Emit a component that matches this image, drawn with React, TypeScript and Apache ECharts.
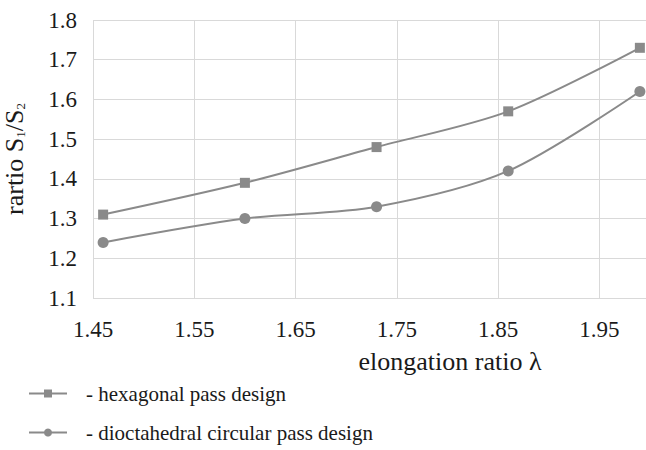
import React, { useEffect, useRef } from "react";
import * as echarts from "echarts";

const elongation = [1.46, 1.6, 1.73, 1.86, 1.99];
const hexagonal = [1.31, 1.39, 1.48, 1.57, 1.73];
const dioctahedral = [1.24, 1.3, 1.33, 1.42, 1.62];
const seriesNames = ["hexagonal pass design", "dioctahedral circular pass design"];
const xLabels = ["1.45", "1.55", "1.65", "1.75", "1.85", "1.95"];

const FONT = "Liberation Serif";
const LINE = "#8a8a8a";
const GRID = "#d9d9d9";
const TEXT = "#1a1a1a";

export default function App() {
  const ref = useRef<HTMLDivElement>(null);
  useEffect(() => {
    if (!ref.current) return;
    const chart = echarts.init(ref.current, null, { renderer: "svg" });
    const pair = (ys: number[]) => elongation.map((x, i) => [x, ys[i]]);
    const tickRich = { t: { fontFamily: FONT, fontSize: 23, color: TEXT, lineHeight: 26 } };
    chart.setOption({
      animation: false,
      backgroundColor: "#ffffff",
      textStyle: { fontFamily: FONT },
      grid: { left: 93, top: 20, right: -4, bottom: 152, containLabel: false, outerBoundsMode: "none" },
      legend: {
        orient: "vertical",
        left: 28,
        top: 383,
        padding: 0,
        height: 67,
        itemWidth: 38,
        itemHeight: 10,
        itemGap: 18,
        formatter: (n: string) => "- " + n,
        textStyle: { fontFamily: FONT, fontSize: 21, color: TEXT, padding: [0, 0, 0, 14] },
        data: seriesNames,
      },
      xAxis: {
        type: "value",
        min: 1.45,
        max: 2.0,
        interval: 0.05,
        axisLine: { show: false },
        axisTick: { show: false },
        splitLine: { show: true, lineStyle: { color: [GRID, "rgba(0,0,0,0)"], width: 1 } },
        axisLabel: {
          margin: 18,
          fontFamily: FONT,
          fontSize: 23,
          color: TEXT,
          rich: tickRich,
          formatter: (v: number) => {
            const s = v.toFixed(2);
            return xLabels.indexOf(s) >= 0 ? "{t|" + s + "}" : "";
          },
        },
        name: "elongation ratio λ",
        nameLocation: "middle",
        nameGap: 50,
        nameTextStyle: { fontFamily: FONT, fontSize: 26, color: TEXT, padding: [0, 0, 0, 157] },
      },
      yAxis: {
        type: "value",
        min: 1.1,
        max: 1.8,
        interval: 0.1,
        axisLine: { show: false },
        axisTick: { show: false },
        splitLine: { show: true, lineStyle: { color: GRID, width: 1 } },
        axisLabel: {
          margin: 16,
          fontFamily: FONT,
          fontSize: 23,
          color: TEXT,
          rich: tickRich,
          formatter: (v: number) => "{t|" + v.toFixed(1) + "}",
        },
        name: "rartio S{sub|1}/S{sub|2}",
        nameLocation: "middle",
        nameRotate: 90,
        nameGap: 66,
        nameTextStyle: {
          fontFamily: FONT,
          fontSize: 26,
          color: TEXT,
          rich: {
            sub: { fontFamily: FONT, fontSize: 13, color: TEXT, verticalAlign: "bottom", padding: [10, 0, 0, 0] },
          },
        },
      },
      series: [
        {
          name: seriesNames[0],
          type: "line",
          data: pair(hexagonal),
          smooth: 0.3,
          symbol: "rect",
          symbolSize: 10,
          lineStyle: { color: LINE, width: 2 },
          itemStyle: { color: LINE },
        },
        {
          name: seriesNames[1],
          type: "line",
          data: pair(dioctahedral),
          smooth: 0.3,
          symbol: "circle",
          symbolSize: 11,
          lineStyle: { color: LINE, width: 2 },
          itemStyle: { color: LINE },
        },
      ],
    });
    return () => chart.dispose();
  }, []);
  return <div ref={ref} style={{ width: 646, height: 450, position: "absolute", left: 0, top: 0 }} />;
}
